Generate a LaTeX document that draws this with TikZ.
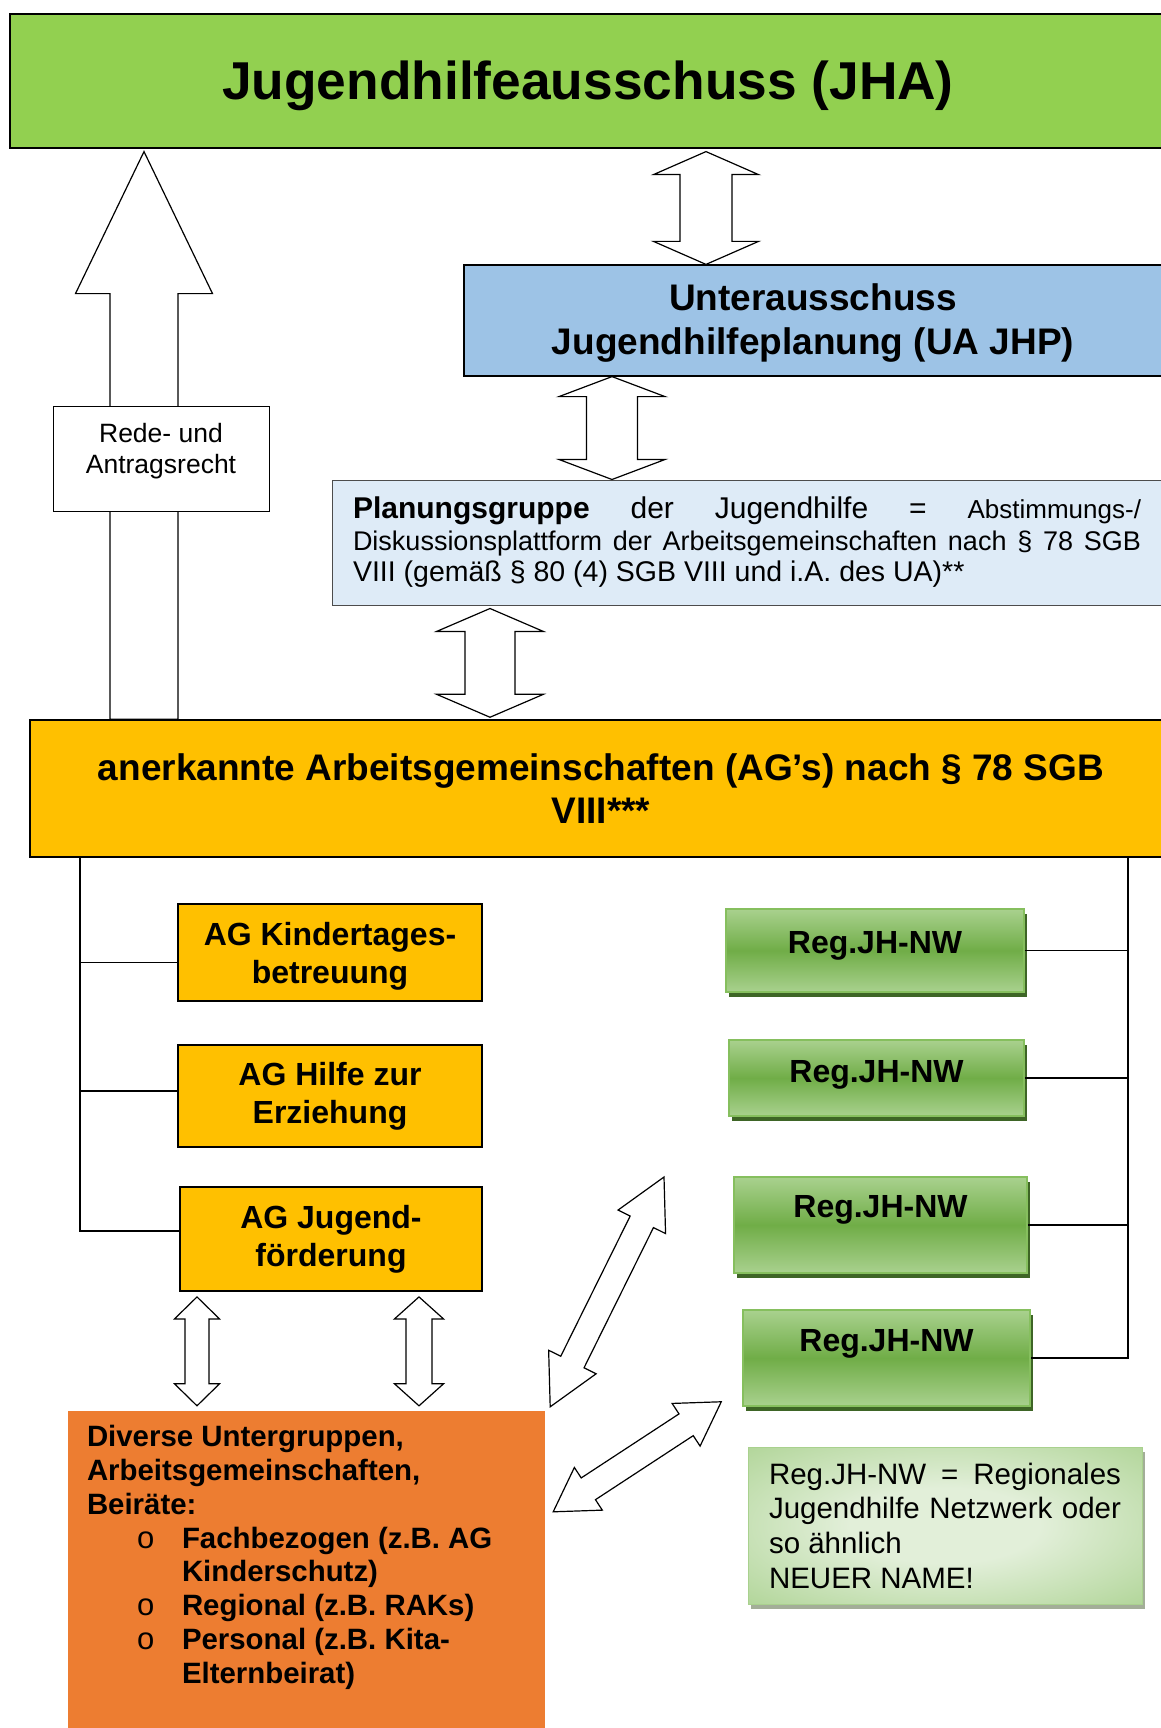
\documentclass[tikz,border=0pt]{standalone}
\usepackage{fontspec}
\setmainfont{Liberation Sans}
\usetikzlibrary{calc,shadows}
\definecolor{jhagreen}{HTML}{92D050}
\definecolor{uablue}{HTML}{9DC3E6}
\definecolor{planblue}{HTML}{DEEBF7}
\definecolor{aggold}{HTML}{FFC000}
\definecolor{suborange}{HTML}{ED7D31}
\definecolor{reglight}{HTML}{A9D18E}
\definecolor{regdark}{HTML}{70AD47}
\definecolor{regborder}{HTML}{86BF5E}
\definecolor{regshadow}{HTML}{3E6526}
\definecolor{legpale}{HTML}{E2EFD9}
\definecolor{legshadow}{HTML}{A3AE98}
\pgfdeclareradialshading{legglow}{\pgfpoint{0bp}{0bp}}{color(0bp)=(legpale); color(12bp)=(legpale); color(40bp)=(reglight)}
\newcommand\twoway[5]{%
    \coordinate(tA)at(#1);\coordinate(tB)at(#2);
    \coordinate(hA)at($(tA)!#5pt!(tB)$);\coordinate(hB)at($(tB)!#5pt!(tA)$);
    \draw[arrowbox](tA)--($(hA)!#4pt!90:(tB)$)--($(hA)!#3pt!90:(tB)$)--($(hB)!#3pt!-90:(tA)$)--($(hB)!#4pt!-90:(tA)$)--(tB)--($(hB)!#4pt!90:(tA)$)--($(hB)!#3pt!90:(tA)$)--($(hA)!#3pt!-90:(tB)$)--($(hA)!#4pt!-90:(tB)$)--cycle;}
\newcommand\oneway[5]{%
    \coordinate(tA)at(#1);\coordinate(tB)at(#2);
    \coordinate(hB)at($(tB)!#5pt!(tA)$);
    \draw[arrowbox]($(tA)!#3pt!90:(tB)$)--($(hB)!#3pt!-90:(tA)$)--($(hB)!#4pt!-90:(tA)$)--(tB)--($(hB)!#4pt!90:(tA)$)--($(hB)!#3pt!90:(tA)$)--($(tA)!#3pt!-90:(tB)$)--cycle;}
\begin{document}
\begin{tikzpicture}[x=1pt,y=-1pt,
    box/.style={draw,line width=1.2pt,inner sep=0pt,align=center},
    agbox/.style={box,fill=aggold,line width=1.8pt,minimum width=304pt,font=\fontsize{32}{38}\selectfont\bfseries},
    reg/.style={draw=regborder,line width=1.5pt,top color=reglight,bottom color=reglight,middle color=regdark,drop shadow={opacity=1,fill=regshadow,shadow xshift=3pt,shadow yshift=-5pt},inner sep=0pt,font=\fontsize{32}{38}\selectfont\bfseries,text depth=#1},
    arrowbox/.style={draw,fill=white,line width=1.2pt,line join=miter},
    conn/.style={line width=1.2pt}]
    \useasboundingbox(0,0)rectangle(1160,1728);
    \node[box,fill=jhagreen,minimum width=1156pt,minimum height=134pt,text depth=1pt,font=\fontsize{53.3}{60}\selectfont\bfseries](jha)at(588,81){Jugendhilfeausschuss (JHA)};
    \node[box,fill=uablue,minimum width=698pt,minimum height=111pt,text depth=2pt,font=\fontsize{37}{44}\selectfont\bfseries](ua)at(813,320.5){Unterausschuss\\Jugendhilfeplanung (UA JHP)};
    \node[box,draw=black!70,line width=1pt,fill=planblue,text width=788pt,inner xsep=21pt,minimum height=125pt,align=justify,font=\fontsize{28.5}{31.5}\selectfont](plan)at(747,542.5){{\fontsize{30}{31.5}\selectfont\textbf{Planungsgruppe} der Jugendhilfe = {\fontsize{26}{31.5}\selectfont Abstimmungs-/}}\linebreak{\fontsize{27}{31.5}\selectfont Diskussionsplattform der Arbeitsgemeinschaften nach § 78 SGB}\linebreak VIII (gemäß § 80 (4) SGB VIII und i.A. des UA)**};
    \node[box,fill=aggold,line width=1.5pt,minimum width=1142pt,minimum height=137pt,font=\fontsize{37}{43}\selectfont\bfseries](ag)at(601,788.5){anerkannte Arbeitsgemeinschaften (AG’s) nach § 78 SGB\\VIII***};
    \node[agbox,minimum height=97pt,text depth=0pt](kind)at(330,952.5){AG Kindertages-\\betreuung};
    \node[agbox,minimum height=102pt](hilfe)at(330,1096){AG Hilfe zur\\Erziehung};
    \node[agbox,minimum width=302pt,minimum height=104pt](jug)at(331,1239){AG Jugend-\\förderung};
    \node[reg=17pt,minimum width=298pt,minimum height=83pt](reg1)at(875,950.5){Reg.JH-NW};
    \node[reg=14pt,minimum width=295pt,minimum height=76pt](reg2)at(876.5,1078){Reg.JH-NW};
    \node[reg=38pt,minimum width=293pt,minimum height=96pt](reg3)at(880.5,1225){Reg.JH-NW};
    \node[reg=36pt,minimum width=287pt,minimum height=96pt](reg4)at(886.5,1358){Reg.JH-NW};
    \node[fill=suborange,minimum width=477pt,minimum height=330pt,inner sep=0pt](sub)at(306.5,1576){};
    \node[anchor=north west,inner sep=0pt,align=left,font=\fontsize{29.4}{33.9}\selectfont\bfseries](subtext)at($(sub.north west)+(19,14)$){Diverse Untergruppen,\\Arbeitsgemeinschaften,\\Beiräte:\\\hspace*{50pt}\makebox[45pt][l]{\mdseries\fontsize{31}{31}\selectfont o}Fachbezogen (z.B. AG\\\hspace*{95pt}Kinderschutz)\\\hspace*{50pt}\makebox[45pt][l]{\mdseries\fontsize{31}{31}\selectfont o}Regional (z.B. RAKs)\\\hspace*{50pt}\makebox[45pt][l]{\mdseries\fontsize{31}{31}\selectfont o}Personal (z.B. Kita-\\\hspace*{95pt}Elternbeirat)};
    \node[draw=reglight,line width=1pt,shading=legglow,drop shadow={opacity=1,fill=legshadow,shadow xshift=3pt,shadow yshift=-5pt},text width=352pt,inner xsep=21pt,minimum height=157pt,align=justify,font=\fontsize{29.5}{34.7}\selectfont](legend)at(945,1525.5){Reg.JH-NW\ \ =\ \ Regionales\linebreak Jugendhilfe Netzwerk oder\linebreak so ähnlich\\NEUER NAME!};
    \coordinate(agl)at(80,0);
    \coordinate(agr)at(1128,0);
    \draw[conn](ag.south-|agl)|-($(jug.west)+(0,-8)$);
    \draw[conn]($(kind.west)+(0,10)$)--($(kind.west-|agl)+(0,10)$);
    \draw[conn]($(hilfe.west)+(0,-5)$)--($(hilfe.west-|agl)+(0,-5)$);
    \draw[conn](ag.south-|agr)|-(reg4.east);
    \draw[conn](reg1.east)--(reg1.east-|agr);
    \draw[conn](reg2.east)--(reg2.east-|agr);
    \draw[conn](reg3.east)--(reg3.east-|agr);
    \coordinate(a1x)at(706,0);
    \coordinate(a2x)at(612,0);
    \coordinate(a3x)at(490,0);
    \coordinate(a4x)at(197,0);
    \coordinate(a5x)at(419,0);
    \coordinate(ux)at(144,0);
    \coordinate(d1t)at(664,1177);
    \twoway{$(jha.south-|a1x)+(0,3)$}{ua.north-|a1x}{26}{52.5}{23}
    \twoway{ua.south-|a2x}{plan.north-|a2x}{25.5}{53}{20}
    \twoway{$(plan.south-|a3x)+(0,3)$}{$(ag.north-|a3x)+(0,-2)$}{25}{53.5}{23}
    \twoway{$(jug.south-|a4x)+(0,5)$}{$(sub.north-|a4x)+(0,-5)$}{12}{22.5}{22}
    \twoway{$(jug.south-|a5x)+(0,5)$}{$(sub.north-|a5x)+(0,-5)$}{13}{24.5}{22}
    \twoway{$(sub.north east)+(5,-4)$}{d1t}{13}{26.5}{50}
    \twoway{$(sub.north east)+(8,101)$}{$(reg4.south west)+(-21,-5)$}{13}{25.5}{42}
    \oneway{ag.north-|ux}{$(jha.south-|ux)+(0,3)$}{34}{68.5}{142}
    \node[box,line width=1pt,fill=white,minimum width=216pt,minimum height=105pt,text depth=20pt,font=\fontsize{26.5}{31}\selectfont](rede)at(161,458.5){Rede- und\\Antragsrecht};
\end{tikzpicture}
\end{document}
